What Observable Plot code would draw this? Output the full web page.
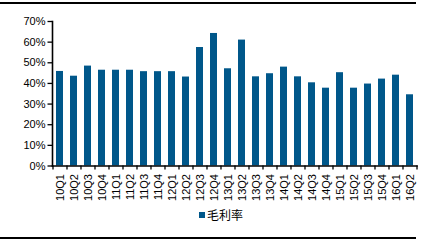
<!DOCTYPE html>
<html>
<head>
<meta charset="utf-8">
<script src="https://cdn.jsdelivr.net/npm/d3@7"></script>
<script src="https://cdn.jsdelivr.net/npm/@observablehq/plot@0.6"></script>
<style>
  html, body { margin: 0; padding: 0; background: #fff; }
  #wrap { position: relative; width: 423px; height: 241px; overflow: hidden; font-family: "Liberation Sans", Arial, sans-serif; }
  #chart { position: absolute; left: 0; top: 0; }
  .hline { position: absolute; left: 0; width: 416px; height: 2px; background: #000; }
  #legend { position: absolute; left: 199px; top: 206px; display: flex; align-items: center; font-family: "Liberation Sans", "Noto Sans CJK SC", sans-serif; font-size: 12px; color: #000; }
  #legend .sw { width: 6px; height: 6px; background: #00578a; margin-right: 2px; }
</style>
</head>
<body>
<div id="wrap">
  <div class="hline" style="top:2px"></div>
  <div id="chart"></div>
  <div id="legend"><span class="sw"></span><span>毛利率</span></div>
  <div class="hline" style="top:237px"></div>
</div>
<script>
const quarters = ["10Q1","10Q2","10Q3","10Q4","11Q1","11Q2","11Q3","11Q4","12Q1","12Q2","12Q3","12Q4","13Q1","13Q2","13Q3","13Q4","14Q1","14Q2","14Q3","14Q4","15Q1","15Q2","15Q3","15Q4","16Q1","16Q2"];
const grossMargin = [45.8,43.5,48.4,46.4,46.4,46.4,45.7,45.7,45.7,43.1,57.4,64.2,47.1,61.0,43.2,44.7,47.9,43.2,40.3,37.7,45.2,37.7,39.7,42.1,44.0,34.5];
const yTicks = [0,10,20,30,40,50,60,70];
const seriesName = "毛利率";

const data = quarters.map((q, i) => ({q, v: grossMargin[i] / 100}));

const W = 423, H = 241, mL = 52, mR = 6.5, mT = 21, mB = 75.5;
const step = (W - mL - mR) / quarters.length;
const color = "#00578a";

const chart = Plot.plot({
  width: W, height: H,
  marginLeft: mL, marginRight: mR, marginTop: mT, marginBottom: mB,
  style: {fontFamily: '"Liberation Sans", Arial, sans-serif', fontSize: "11px", color: "#000", background: "transparent"},
  x: {domain: quarters, paddingInner: 0.47, paddingOuter: 0.235, axis: null},
  y: {domain: [0, 0.7], axis: null},
  marks: [
    Plot.barY(data, {x: "q", y: "v", fill: color}),
    Plot.axisY({ticks: yTicks.map(d => d / 100), tickFormat: d => Math.round(d * 100) + "%", tickSize: 4.5, tickPadding: 2.5, stroke: "#000", fill: "#000", strokeWidth: 1.3, fontSize: 11, label: null}),
    Plot.frame({anchor: "left", stroke: "#000", strokeWidth: 1.6}),
    Plot.frame({anchor: "bottom", stroke: "#000", strokeWidth: 1.6}),
    Plot.axisX({tickSize: 4, tickFormat: () => "", dx: -step / 2, stroke: "#000", strokeWidth: 1.3, label: null}),
    Plot.axisX({ticks: [quarters[quarters.length - 1]], tickSize: 4, tickFormat: () => "", dx: step / 2, stroke: "#000", strokeWidth: 1.3, label: null}),
    Plot.axisX({tickSize: 0, tickPadding: 8, tickRotate: -90, fontSize: 11, fill: "#000", label: null})
  ]
});
document.getElementById("chart").appendChild(chart);
</script>
</body>
</html>
